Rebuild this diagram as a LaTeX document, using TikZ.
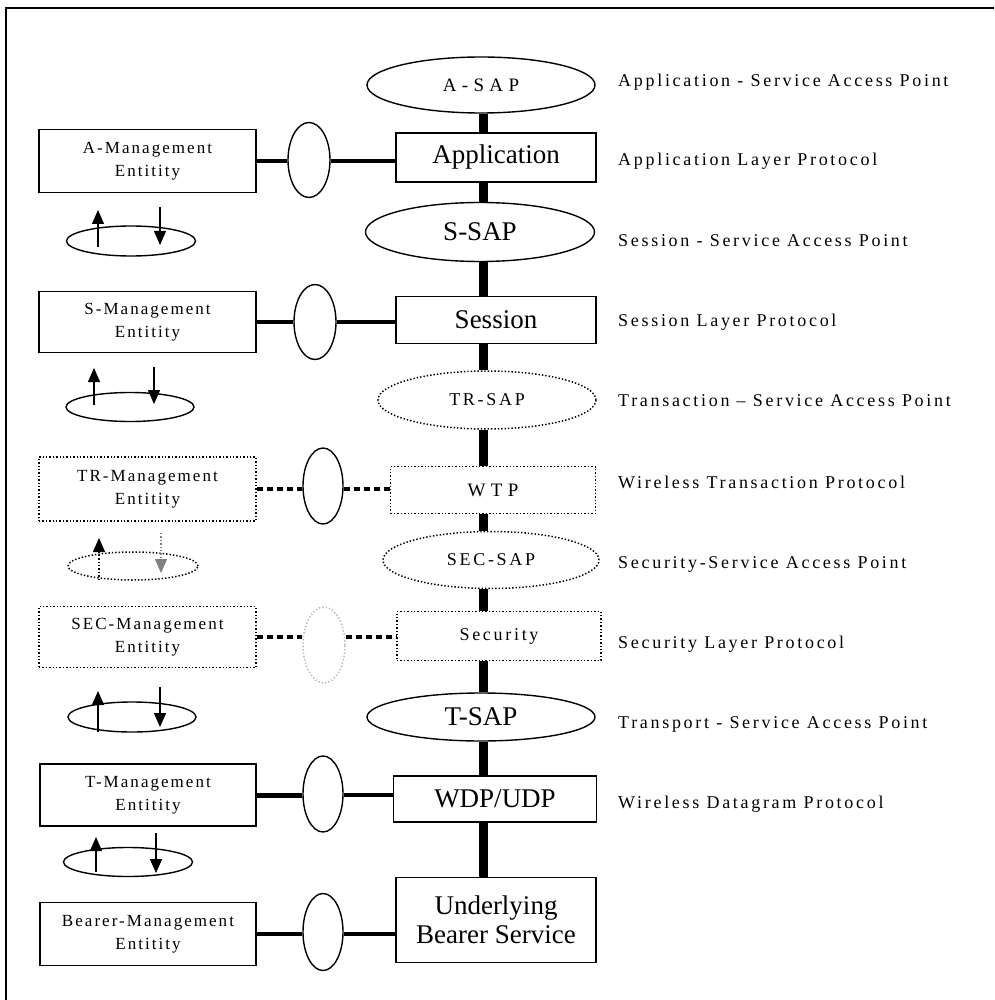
\documentclass[tikz,border=0pt]{standalone}
\usepackage{fontspec}
\setmainfont{Liberation Serif}
\newfontfamily\spaced[LetterSpace=15]{Liberation Serif}
\newfontfamily\widespaced[LetterSpace=28]{Liberation Serif}
\newfontfamily\mgmtspaced[LetterSpace=12]{Liberation Serif}
\usetikzlibrary{shapes.geometric,arrows.meta,calc}
\newcommand\bigtxt{\fontsize{27}{29}\selectfont}
\newcommand\smalltxt{\spaced\fontsize{18}{23}\selectfont}
\newcommand\widetxt{\widespaced\fontsize{19}{23}\selectfont}
\newcommand\mgmttxt{\mgmtspaced\fontsize{17}{23}\selectfont}

\begin{document}
\begin{tikzpicture}[x=1pt,y=-1pt,
  box/.style={draw, line width=1.4pt, inner sep=0pt, align=center},
  oval/.style={draw, ellipse, line width=1.4pt, inner sep=0pt},
  bar/.style={line width=9pt},
  link/.style={line width=3.5pt},
  dlink/.style={line width=4.5pt, dash pattern=on 6pt off 4pt},
  dots/.style={dotted, line width=1.5pt},
  updown/.style={line width=1.4pt, -{Triangle[width=12pt,length=14pt]}}]
\useasboundingbox (0,0) rectangle (994,1000);
\draw[line width=2.5pt] (6,1000) -- (6,8) -- (994,8);

\node[oval, minimum width=228pt, minimum height=56pt, font=\widetxt] (asap) at (481,85) {A-SAP};
\node[box, minimum width=200pt, minimum height=49pt, font=\bigtxt] (app) at (496,157.5) {Application};
\node[oval, minimum width=229pt, minimum height=59pt, font=\bigtxt] (ssap) at (480,232) {S-SAP};
\node[box, minimum width=200pt, minimum height=47pt, font=\bigtxt] (sess) at (496,320) {Session};
\node[oval, dots, minimum width=218pt, minimum height=58pt, font=\smalltxt] (trsap) at (487,400) {TR-SAP};
\node[box, dots, minimum width=205pt, minimum height=47pt, font=\widetxt] (wtp) at (493,490) {WTP};
\node[oval, dots, minimum width=216pt, minimum height=57pt, font=\smalltxt] (secsap) at (491,560) {SEC-SAP};
\node[box, dots, minimum width=204pt, minimum height=49pt, font=\smalltxt] (sec) at (499,636) {Security};
\node[oval, minimum width=228pt, minimum height=48pt, font=\bigtxt] (tsap) at (481,717) {T-SAP};
\node[box, minimum width=203pt, minimum height=46pt, font=\bigtxt] (wdp) at (495,799) {WDP/UDP};
\node[box, minimum width=200pt, minimum height=85pt, font=\bigtxt] (bearer) at (496,920) {Underlying\\Bearer Service};

\coordinate (spine) at (483,0);
\draw[bar] (spine |- asap.south) -- (spine |- app.north);
\draw[bar] (spine |- app.south) -- (spine |- ssap.north);
\draw[bar] (spine |- ssap.south) -- (spine |- sess.north);
\draw[bar] (spine |- sess.south) -- (spine |- trsap.north);
\draw[bar] (spine |- trsap.south) -- (spine |- wtp.north);
\draw[bar] (spine |- wtp.south) -- (spine |- secsap.north);
\draw[bar] (spine |- secsap.south) -- (spine |- sec.north);
\draw[bar] (spine |- sec.south) -- (spine |- tsap.north);
\draw[bar] (spine |- tsap.south) -- (spine |- wdp.north);
\draw[bar] (spine |- wdp.south) -- (spine |- bearer.north);

\node[box, minimum width=217pt, minimum height=63pt, font=\mgmttxt] (am) at (147.5,161) {A-Management\\Entitity};
\node[box, minimum width=217pt, minimum height=61pt, font=\mgmttxt] (sm) at (147.5,322) {S-Management\\Entitity};
\node[box, dots, line width=2pt, minimum width=217pt, minimum height=64pt, font=\mgmttxt] (trm) at (147.5,489) {TR-Management\\Entitity};
\node[box, dots, minimum width=217pt, minimum height=61pt, font=\mgmttxt] (secm) at (147.5,637) {SEC-Management\\Entitity};
\node[box, minimum width=216pt, minimum height=62pt, font=\mgmttxt] (tm) at (148,795) {T-Management\\Entitity};
\node[box, minimum width=216pt, minimum height=63pt, font=\mgmttxt] (bm) at (148,934) {Bearer-Management\\Entitity};

\node[oval, minimum width=42pt, minimum height=75pt] (ac) at (309,160) {};
\node[oval, minimum width=42pt, minimum height=75pt] (sc) at (315,322) {};
\node[oval, minimum width=40pt, minimum height=76pt] (trc) at (323,486) {};
\node[oval, dots, draw=gray!55, minimum width=42pt, minimum height=76pt] (secc) at (324,645) {};
\node[oval, minimum width=40pt, minimum height=76pt] (tc) at (323,794) {};
\node[oval, minimum width=40pt, minimum height=77pt] (bc) at (323,932) {};

\draw[link] (am.east) -- (am.east -| ac.west);
\draw[link] (am.east -| ac.east) -- (am.east -| app.west);
\draw[link] (sm.east) -- (sm.east -| sc.west);
\draw[link] (sm.east -| sc.east) -- (sm.east -| sess.west);
\draw[dlink] (trm.east) -- (trm.east -| trc.west);
\draw[dlink] (trm.east -| trc.east) -- (trm.east -| wtp.west);
\draw[dlink] (secm.east) -- (secm.east -| secc.west);
\draw[dlink, line width=3.5pt] (secm.east -| secc.east) -- (secm.east -| sec.west);
\draw[link, line width=5pt] (tm.east) -- (tm.east -| tc.west);
\draw[link] (tm.east -| tc.east) -- (tm.east -| wdp.west);
\draw[link] (bm.east) -- (bm.east -| bc.west);
\draw[link] (bm.east -| bc.east) -- (bm.east -| bearer.west);

\node[oval, minimum width=129pt, minimum height=30pt] (asarr) at (131,241) {};
\draw[updown] ($(asarr)+(-33,6)$) -- ($(asarr)+(-33,-31)$);
\draw[updown] ($(asarr)+(29,-34)$) -- ($(asarr)+(29,4)$);
\node[oval, minimum width=128pt, minimum height=29pt] (strarr) at (130,407) {};
\draw[updown] ($(strarr)+(-36,-2)$) -- ($(strarr)+(-36,-39)$);
\draw[updown] ($(strarr)+(24,-40)$) -- ($(strarr)+(24,-3)$);
\node[oval, dots, minimum width=130pt, minimum height=28pt] (trsecarr) at (133,566) {};
\draw[updown, dotted] ($(trsecarr)+(-34,14)$) -- ($(trsecarr)+(-34,-28)$);
\draw[updown, dotted, draw=gray] ($(trsecarr)+(28,-33)$) -- ($(trsecarr)+(28,7)$);
\node[oval, minimum width=128pt, minimum height=30pt] (sectarr) at (132,717) {};
\draw[updown] ($(sectarr)+(-34,15)$) -- ($(sectarr)+(-34,-26)$);
\draw[updown] ($(sectarr)+(28,-30)$) -- ($(sectarr)+(28,10)$);
\node[oval, minimum width=129pt, minimum height=29pt] (tbarr) at (128,862) {};
\draw[updown] ($(tbarr)+(-32,10)$) -- ($(tbarr)+(-32,-25)$);
\draw[updown] ($(tbarr)+(28,-29)$) -- ($(tbarr)+(28,11)$);

\node[anchor=base west, inner sep=0pt, font=\smalltxt] (asapt) at (618,87) {Application - Service Access Point};
\node[anchor=base west, inner sep=0pt, font=\smalltxt] (appt) at (618,166) {Application Layer Protocol};
\node[anchor=base west, inner sep=0pt, font=\smalltxt] (ssapt) at (618,246) {Session - Service Access Point};
\node[anchor=base west, inner sep=0pt, font=\smalltxt] (sesst) at (618,326) {Session Layer Protocol};
\node[anchor=base west, inner sep=0pt, font=\smalltxt] (trsapt) at (618,406) {Transaction – Service Access Point};
\node[anchor=base west, inner sep=0pt, font=\smalltxt] (wtpt) at (618,488) {Wireless Transaction Protocol};
\node[anchor=base west, inner sep=0pt, font=\smalltxt] (secsapt) at (618,568) {Security-Service Access Point};
\node[anchor=base west, inner sep=0pt, font=\smalltxt] (sect) at (618,648) {Security Layer Protocol};
\node[anchor=base west, inner sep=0pt, font=\smalltxt] (tsapt) at (618,728) {Transport - Service Access Point};
\node[anchor=base west, inner sep=0pt, font=\smalltxt] (wdpt) at (618,808) {Wireless Datagram Protocol};
\end{tikzpicture}
\end{document}
